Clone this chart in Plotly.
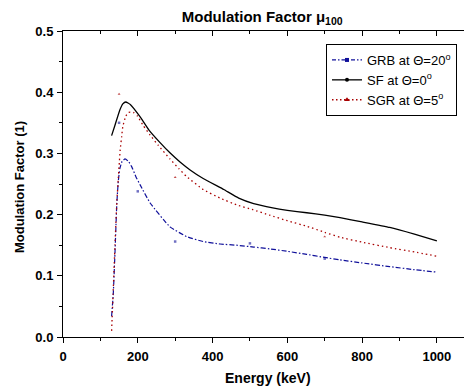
import plotly.graph_objects as go

# ---- data ----
sf_energy = [130, 139, 152, 160, 168, 180, 206, 230, 259, 286, 313, 340, 375, 430, 470, 510, 561, 600, 652, 700, 741, 800, 874, 940, 1000]
sf_mu = [0.329, 0.346, 0.371, 0.381, 0.384, 0.380, 0.360, 0.338, 0.318, 0.301, 0.286, 0.273, 0.259, 0.241, 0.227, 0.218, 0.211, 0.207, 0.203, 0.199, 0.195, 0.188, 0.179, 0.168, 0.157]

sgr_energy = [130, 134, 139, 144, 148, 150, 153, 157, 160, 168, 175, 188, 199, 215, 233, 255, 286, 310, 331, 375, 420, 464, 508, 553, 600, 652, 700, 741, 800, 874, 940, 1000]
sgr_mu = [0.010, 0.070, 0.150, 0.220, 0.260, 0.279, 0.306, 0.328, 0.344, 0.361, 0.367, 0.367, 0.361, 0.345, 0.330, 0.313, 0.291, 0.275, 0.262, 0.241, 0.227, 0.216, 0.208, 0.199, 0.190, 0.181, 0.171, 0.163, 0.155, 0.146, 0.139, 0.132]

grb_energy = [130, 134.6, 139, 144, 148, 152, 158, 166, 175, 184, 195, 206, 233, 286, 331, 375, 420, 464, 510, 553, 600, 652, 700, 741, 800, 874, 940, 1000]
grb_mu = [0.034, 0.072, 0.137, 0.219, 0.255, 0.275, 0.287, 0.291, 0.287, 0.278, 0.262, 0.249, 0.219, 0.180, 0.164, 0.156, 0.152, 0.150, 0.147, 0.144, 0.140, 0.135, 0.130, 0.126, 0.121, 0.115, 0.110, 0.106]

# scattered symbols visible in the picture
grb_sym_energy = [150, 200, 300, 500, 700]
grb_sym_mu = [0.350, 0.238, 0.156, 0.153, 0.128]
sgr_sym_energy = [150, 300, 700]
sgr_sym_mu = [0.397, 0.261, 0.164]

legend_names = ["GRB at Θ=20<sup>o</sup>", "SF at Θ=0<sup>o</sup>", "SGR at Θ=5<sup>o</sup>"]
x_ticks = [0, 200, 400, 600, 800, 1000]
y_ticks = [0.0, 0.1, 0.2, 0.3, 0.4, 0.5]
y_tick_text = ["0.0", "0.1", "0.2", "0.3", "0.4", "0.5"]

BLUE = "#10109a"
RED = "#a80000"
BLACK = "#000000"
FONT = "Arial, Liberation Sans, sans-serif"

fig = go.Figure()

fig.add_trace(go.Scatter(x=grb_energy, y=grb_mu, mode="lines", showlegend=False,
                         line=dict(color=BLUE, width=1.2, dash="5px,2px,1.5px,2px", shape="spline", smoothing=0.4)))
fig.add_trace(go.Scatter(x=sf_energy, y=sf_mu, mode="lines", showlegend=False,
                         line=dict(color=BLACK, width=1.3, shape="spline", smoothing=0.4)))
fig.add_trace(go.Scatter(x=sgr_energy, y=sgr_mu, mode="lines", showlegend=False,
                         line=dict(color=RED, width=1.3, dash="1.5px,3px", shape="spline", smoothing=0.4)))

fig.add_trace(go.Scatter(x=grb_sym_energy, y=grb_sym_mu, mode="markers", showlegend=False,
                         marker=dict(color=BLUE, size=2.5, symbol="square", opacity=0.6)))
fig.add_trace(go.Scatter(x=sgr_sym_energy, y=sgr_sym_mu, mode="markers", showlegend=False,
                         marker=dict(color=RED, size=2.5, symbol="triangle-up", opacity=0.7)))

# legend entries
fig.add_trace(go.Scatter(x=[None], y=[None], mode="lines+markers", name=legend_names[0],
                         line=dict(color=BLUE, width=1.2, dash="4px,2px,1.5px,2px"),
                         marker=dict(color=BLUE, size=4, symbol="square")))
fig.add_trace(go.Scatter(x=[None], y=[None], mode="lines+markers", name=legend_names[1],
                         line=dict(color=BLACK, width=1.3),
                         marker=dict(color=BLACK, size=4, symbol="circle")))
fig.add_trace(go.Scatter(x=[None], y=[None], mode="lines+markers", name=legend_names[2],
                         line=dict(color=RED, width=1.3, dash="1.5px,2.5px"),
                         marker=dict(color=RED, size=5, symbol="triangle-up")))

# dummy trace for mirror axes
fig.add_trace(go.Scatter(x=[None], y=[None], xaxis="x2", yaxis="y2", showlegend=False, hoverinfo="skip"))

XR = [0, 1094]
YR = [0, 0.5]
tickfont = dict(family=FONT, size=13, color="black", weight="bold")

# page body has an 8px default margin: figure is sized/offset to compensate
fig.update_layout(
    width=464, height=381,
    margin=dict(l=55, r=0, t=23, b=52),
    paper_bgcolor="white", plot_bgcolor="white",
    font=dict(family=FONT, color="black"),
    title=dict(text="<b>Modulation Factor μ<sub>100</sub></b>", font=dict(family=FONT, size=15, color="black"),
               xref="paper", x=0.487, xanchor="center", yref="container", y=1 - 9 / 381, yanchor="middle"),
    xaxis=dict(range=XR, tickvals=x_ticks, ticks="outside", ticklen=5, tickwidth=1, tickcolor="black",
               showline=True, linecolor="black", linewidth=1, showgrid=False, zeroline=False,
               tickfont=tickfont, ticklabelstandoff=2, automargin=False,
               minor=dict(dtick=100, ticks="outside", ticklen=3, tickcolor="black", showgrid=False)),
    yaxis=dict(range=YR, tickvals=y_ticks, ticktext=y_tick_text,
               ticks="outside", ticklen=5, tickwidth=1, tickcolor="black",
               showline=True, linecolor="black", linewidth=1, showgrid=False, zeroline=False,
               tickfont=tickfont, ticklabelstandoff=1, automargin=False,
               minor=dict(dtick=0.05, ticks="outside", ticklen=3, tickcolor="black", showgrid=False)),
    xaxis2=dict(range=XR, overlaying="x", side="top", anchor="y", tickvals=x_ticks, ticks="inside", ticklen=5,
                tickcolor="black", showticklabels=False, showline=True, linecolor="black", linewidth=1,
                showgrid=False, zeroline=False, automargin=False,
                minor=dict(dtick=100, ticks="inside", ticklen=3, tickcolor="black", showgrid=False)),
    yaxis2=dict(range=YR, overlaying="y", side="right", anchor="x", tickvals=y_ticks, ticks="inside", ticklen=5,
                tickcolor="black", showticklabels=False, showline=True, linecolor="black", linewidth=1,
                showgrid=False, zeroline=False, automargin=False,
                minor=dict(dtick=0.05, ticks="inside", ticklen=3, tickcolor="black", showgrid=False)),
    legend=dict(x=(326 - 63) / 409, y=(337 - 44) / 306, xanchor="left", yanchor="top", bgcolor="white",
                bordercolor="black", borderwidth=1, font=dict(family=FONT, size=13, color="black"),
                tracegroupgap=0, itemwidth=30),
    annotations=[
        dict(text="<b>Energy (keV)</b>", xref="paper", yref="paper", x=0.5, y=(337 - 378) / 306,
             xanchor="center", yanchor="middle", showarrow=False, font=dict(family=FONT, size=14, color="black")),
        dict(text="<b>Modulation Factor (1)</b>", xref="paper", yref="paper", x=(19 - 63) / 409, y=0.49, textangle=-90,
             xanchor="center", yanchor="middle", showarrow=False, font=dict(family=FONT, size=13, color="black")),
    ],
)

fig.write_html("out.html")
